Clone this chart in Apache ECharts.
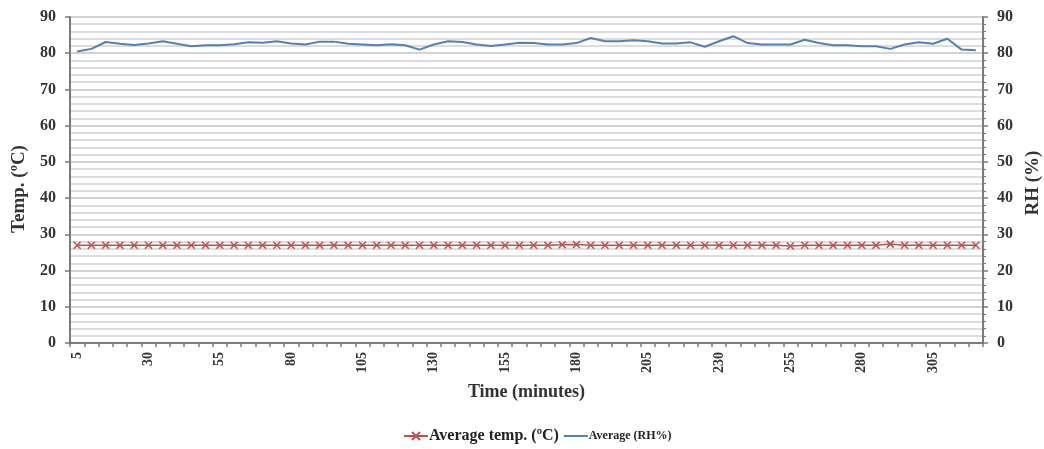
<!DOCTYPE html>
<html>
<head>
<meta charset="utf-8">
<script src="https://cdn.jsdelivr.net/npm/echarts@6/dist/echarts.min.js"></script>
<style>
  html, body { margin: 0; padding: 0; background: #ffffff; }
  #chart { width: 1044px; height: 449px; }
</style>
</head>
<body>
<div id="chart"></div>
<script>
// Sampling times (minutes), every 5 minutes from 5 to 320
const times = [
  5, 10, 15, 20, 25, 30, 35, 40, 45, 50, 55, 60, 65, 70, 75, 80,
  85, 90, 95, 100, 105, 110, 115, 120, 125, 130, 135, 140, 145, 150, 155, 160,
  165, 170, 175, 180, 185, 190, 195, 200, 205, 210, 215, 220, 225, 230, 235, 240,
  245, 250, 255, 260, 265, 270, 275, 280, 285, 290, 295, 300, 305, 310, 315, 320
];

// Average temperature (°C)
const avgTemp = [
  27.0, 27.0, 27.0, 27.0, 27.0, 27.0, 27.0, 27.0, 27.0, 27.0, 27.0, 27.0, 27.0, 27.0, 27.0, 27.0,
  27.0, 27.0, 27.0, 27.0, 27.0, 27.0, 27.0, 27.0, 27.0, 27.0, 27.0, 27.0, 27.0, 27.0, 27.0, 27.0,
  27.0, 27.0, 27.1, 27.2, 27.0, 27.0, 27.0, 27.0, 27.0, 27.0, 27.0, 27.0, 27.0, 27.0, 27.0, 27.0,
  27.0, 27.0, 26.8, 27.0, 27.0, 27.0, 27.0, 27.0, 27.0, 27.3, 27.0, 27.0, 27.0, 27.0, 27.0, 27.0
];

// Average relative humidity (%)
const avgRH = [
  80.5, 81.2, 83.1, 82.6, 82.3, 82.7, 83.3, 82.6, 81.9, 82.2, 82.2, 82.5, 83.0, 82.9, 83.3, 82.7,
  82.4, 83.2, 83.2, 82.6, 82.4, 82.2, 82.5, 82.2, 81.0, 82.4, 83.3, 83.1, 82.4, 82.0, 82.4, 82.9,
  82.8, 82.4, 82.4, 82.8, 84.2, 83.3, 83.3, 83.6, 83.3, 82.7, 82.7, 83.0, 81.8, 83.3, 84.7, 82.8,
  82.4, 82.4, 82.4, 83.7, 82.8, 82.2, 82.2, 81.9, 81.9, 81.2, 82.4, 83.0, 82.6, 84.0, 81.0, 80.8
];

const serif = '"Liberation Serif", "DejaVu Serif", serif';
const axisColor = '#7a7a7a';

const chart = echarts.init(document.getElementById('chart'));

const yAxisBase = {
  type: 'value',
  min: 0,
  max: 90,
  interval: 10,
  nameLocation: 'middle',
  nameRotate: 90,
  axisLine: { show: true, lineStyle: { color: axisColor, width: 2 } },
  axisTick: { show: true, length: 5, lineStyle: { color: axisColor, width: 1.5 } },
  axisLabel: { fontFamily: serif, fontWeight: 'bold', fontSize: 16, color: '#333', margin: 14 }
};

chart.setOption({
  animation: false,
  backgroundColor: '#ffffff',
  grid: { left: 70, right: 61, top: 17, bottom: 106, containLabel: false, outerBoundsMode: 'none' },
  legend: {
    bottom: 0,
    left: 398,
    itemGap: 4,
    itemWidth: 24,
    itemHeight: 10,
    textStyle: { fontFamily: serif, fontWeight: 'bold', color: '#222', padding: [0, 0, 0, -4] },
    data: [
      { name: 'Average temp. (\u00BAC)', textStyle: { fontSize: 16 } },
      { name: 'Average (RH%)', itemStyle: { opacity: 0 }, textStyle: { fontSize: 12, padding: [6, 0, 0, -4] } }
    ]
  },
  xAxis: {
    type: 'category',
    data: times,
    boundaryGap: true,
    name: 'Time (minutes)',
    nameLocation: 'middle',
    nameGap: 40,
    nameTextStyle: { fontFamily: serif, fontWeight: 'bold', fontSize: 18, color: '#333' },
    axisLine: { lineStyle: { color: axisColor, width: 2 } },
    axisTick: { show: true, interval: 0, length: 4, lineStyle: { color: axisColor, width: 1.5 } },
    axisLabel: {
      interval: 4,
      rotate: 90,
      fontFamily: serif,
      fontWeight: 'bold',
      fontSize: 14,
      color: '#333',
      margin: 9
    },
    splitLine: { show: false }
  },
  yAxis: [
    Object.assign({}, yAxisBase, {
      name: 'Temp. (\u00BAC)',
      position: 'left',
      nameGap: 41,
      nameTextStyle: { fontFamily: serif, fontWeight: 'bold', fontSize: 19, color: '#333', padding: [0, 18, 0, 0] },
      splitLine: { show: true, lineStyle: { color: '#c4c4c4', width: 1.5 } },
      minorTick: { show: false },
      minorSplitLine: { show: true, lineStyle: { color: '#d2d2d2', width: 1.5 } }
    }),
    Object.assign({}, yAxisBase, {
      name: 'RH (%)',
      position: 'right',
      nameGap: 37,
      nameTextStyle: { fontFamily: serif, fontWeight: 'bold', fontSize: 19, color: '#333', padding: [0, 6, 0, 0] },
      splitLine: { show: false },
      minorTick: { show: true, splitNumber: 5, length: 3, lineStyle: { color: axisColor, width: 1.2 } },
      minorSplitLine: { show: false }
    })
  ],
  series: [
    {
      name: 'Average temp. (\u00BAC)',
      type: 'line',
      yAxisIndex: 0,
      data: avgTemp,
      symbol: 'path://M0,0L10,10M10,0L0,10',
      symbolSize: 7,
      showSymbol: true,
      lineStyle: { color: '#c0504d', width: 1.5 },
      itemStyle: { color: '#c0504d', borderColor: '#c0504d', borderWidth: 1.5 }
    },
    {
      name: 'Average (RH%)',
      type: 'line',
      yAxisIndex: 1,
      data: avgRH,
      symbol: 'none',
      lineStyle: { color: '#4f81bd', width: 2 },
      itemStyle: { color: '#4f81bd' }
    }
  ]
});
</script>
</body>
</html>
